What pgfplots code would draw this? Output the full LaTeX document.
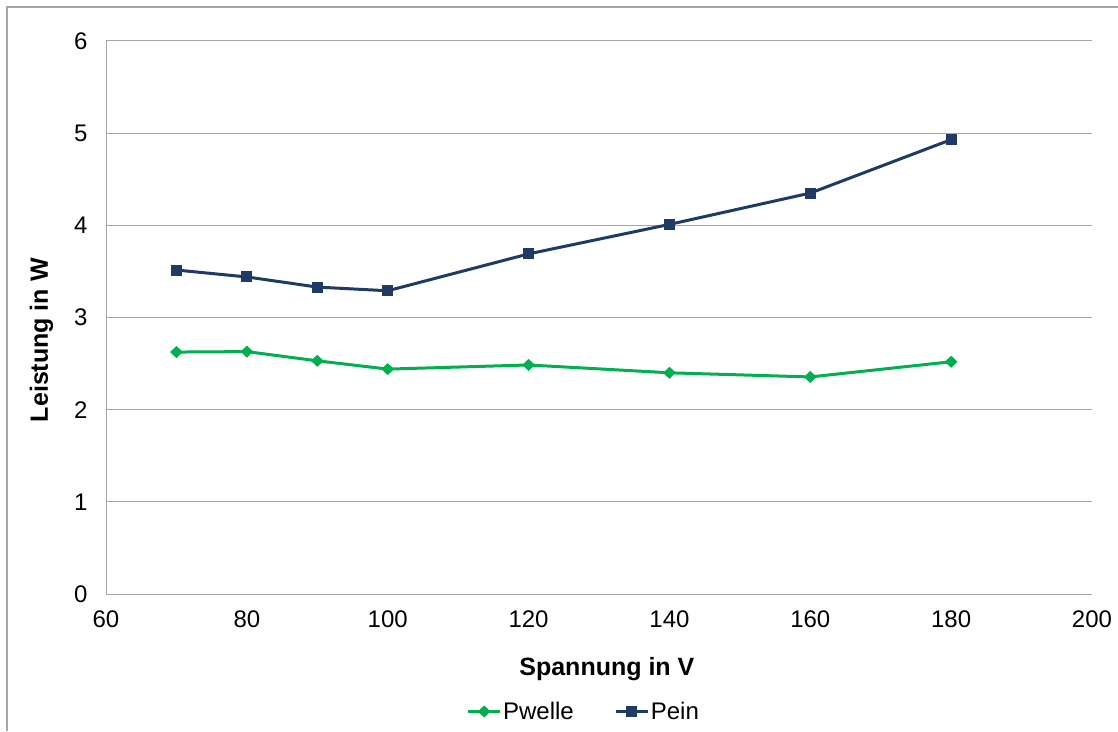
\documentclass[border=0pt]{standalone}
\usepackage{pgfplots}
\pgfplotsset{compat=1.18}
\usepackage{fontspec}
\setmainfont{Liberation Sans}
\definecolor{pein}{HTML}{1F3B64}
\definecolor{pwelle}{HTML}{00B050}
\definecolor{gridgray}{HTML}{A6A6A6}
\begin{document}
\begin{tikzpicture}[x=1pt,y=1pt]
\path[use as bounding box] (0,0) rectangle (1118,731);
\draw[gridgray,line width=1.2pt] (7,0) -- (7,724) -- (1118,724);
\begin{axis}[
  at={(106pt,137pt)}, anchor=origin,
  scale only axis, width=986pt, height=553pt,
  xmin=60, xmax=200, ymin=0, ymax=6,
  xtick={60,80,...,200}, ytick={0,1,...,6},
  axis x line*=bottom, axis y line*=left,
  axis line style={gridgray,line width=1pt,-},
  major tick length=0pt,
  ymajorgrids, grid style={gridgray,line width=1pt},
  /pgf/number format/assume math mode=true,
  tick label style={font=\fontsize{24}{28}\selectfont, text=black},
  yticklabel style={xshift=-15pt},
  xticklabel style={yshift=-13pt},
  xlabel={\textbf{Spannung in V}},
  ylabel={\textbf{Leistung in W}},
  label style={font=\fontsize{25}{29}\selectfont},
  xlabel style={at={(axis description cs:0.508,-0.1465)}, anchor=base},
  ylabel style={at={(axis description cs:-0.0654,0.459)}, anchor=center, rotate=0},
  legend columns=2,
  legend style={draw=none, fill=none, at={(axis description cs:0.4843,-0.2125)}, anchor=center,
    font=\fontsize{24}{28}\selectfont, nodes={inner sep=1.5pt},
    /tikz/every even column/.append style={column sep=39pt},
    inner sep=0pt},
  legend image code/.code={\draw[mark repeat=2,mark phase=2,#1] plot coordinates {(0pt,0pt) (16pt,0pt) (32pt,0pt)};},
]
\addplot[pwelle, line width=3pt, mark=diamond*, mark size=5pt, mark options={solid, line width=1.5pt, xscale=1.4}] coordinates {
 (70,2.625) (80,2.63) (90,2.53) (100,2.44) (120,2.485) (140,2.40) (160,2.355) (180,2.52)};
\addlegendentry{Pwelle}
\addplot[pein, line width=3pt, mark=square*, mark size=4.5pt, mark options={solid, line width=2pt}] coordinates {
 (70,3.515) (80,3.44) (90,3.33) (100,3.29) (120,3.69) (140,4.01) (160,4.35) (180,4.93)};
\addlegendentry{Pein}
\end{axis}
\end{tikzpicture}
\end{document}
